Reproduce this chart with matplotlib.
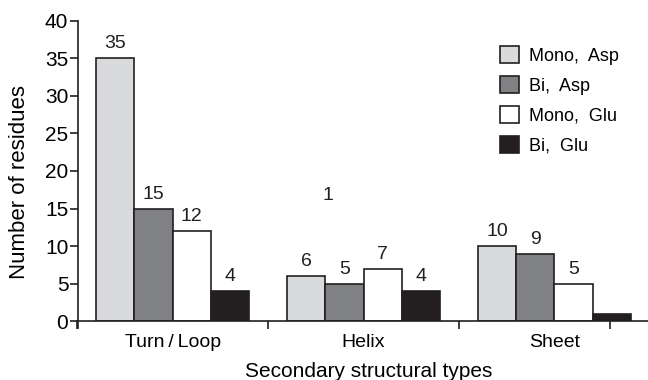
import matplotlib
matplotlib.use("Agg")
import matplotlib.pyplot as plt
import numpy as np

categories = ["Turn\u2009/\u2009Loop", "Helix", "Sheet"]
series = ["Mono,  Asp", "Bi,  Asp", "Mono,  Glu", "Bi,  Glu"]
values = [
    [35, 6, 10],   # Mono, Asp
    [15, 5, 9],    # Bi, Asp
    [12, 7, 5],    # Mono, Glu
    [4, 4, 1],     # Bi, Glu
]
colors = ["#d9dadc", "#808184", "#ffffff", "#231f20"]
edge = "#231f20"

plt.rcParams['font.family'] = ['Liberation Sans', 'DejaVu Sans']

fig = plt.figure(figsize=(6.48, 3.8), dpi=100)
ax = fig.add_axes([0.119, 0.155, 0.881, 0.79])

x = np.arange(len(categories))
w = 0.2
offsets = [-0.3, -0.1, 0.1, 0.3]
for i, vals in enumerate(values):
    ax.bar(x + offsets[i], vals, w, color=colors[i], edgecolor=edge,
           linewidth=1.2, label=series[i])
    for j, v in enumerate(vals):
        if i == 3 and j == 2:
            # this label sits away from its bar in the original figure
            ax.text(0.814, 16.8, str(v), ha='center', va='center', fontsize=14, color=edge)
        else:
            ax.text(x[j] + offsets[i], v + 0.8, str(v), ha='center', va='bottom',
                    fontsize=14, color=edge)

ax.set_xlim(-0.5, 2.49)
ax.set_ylim(0, 40)
ax.set_yticks(range(0, 41, 5))
ax.set_xticks(x)
ax.set_xticklabels(categories, fontsize=14)
ax.set_xticks([-0.5, 0.5, 1.5, 2.29], minor=True)
ax.tick_params(axis='x', which='major', length=0, pad=9)
ax.tick_params(axis='x', which='minor', length=6, width=1.2, direction='out', color=edge)
ax.tick_params(axis='y', labelsize=15, length=6, width=1.2, color=edge, pad=1)
ax.spines['top'].set_visible(False)
ax.spines['right'].set_visible(False)
for s in ['left', 'bottom']:
    ax.spines[s].set_linewidth(1.2)
    ax.spines[s].set_color(edge)
ax.spines['left'].set_bounds(-0.9, 40)
ax.spines['left'].set_position(('data', -0.495))

ax.set_ylabel("Number of residues", fontsize=16)
ax.yaxis.set_label_coords(-0.083, 0.465)
ax.set_xlabel("Secondary structural types", fontsize=15)
ax.xaxis.set_label_coords(0.51, -0.137)

ax.legend(loc='upper right', bbox_to_anchor=(0.978, 0.97), frameon=False, fontsize=13,
          handlelength=1.1, handleheight=1.1, handletextpad=0.55, labelspacing=0.62)

fig.savefig("out.png", dpi=100)
